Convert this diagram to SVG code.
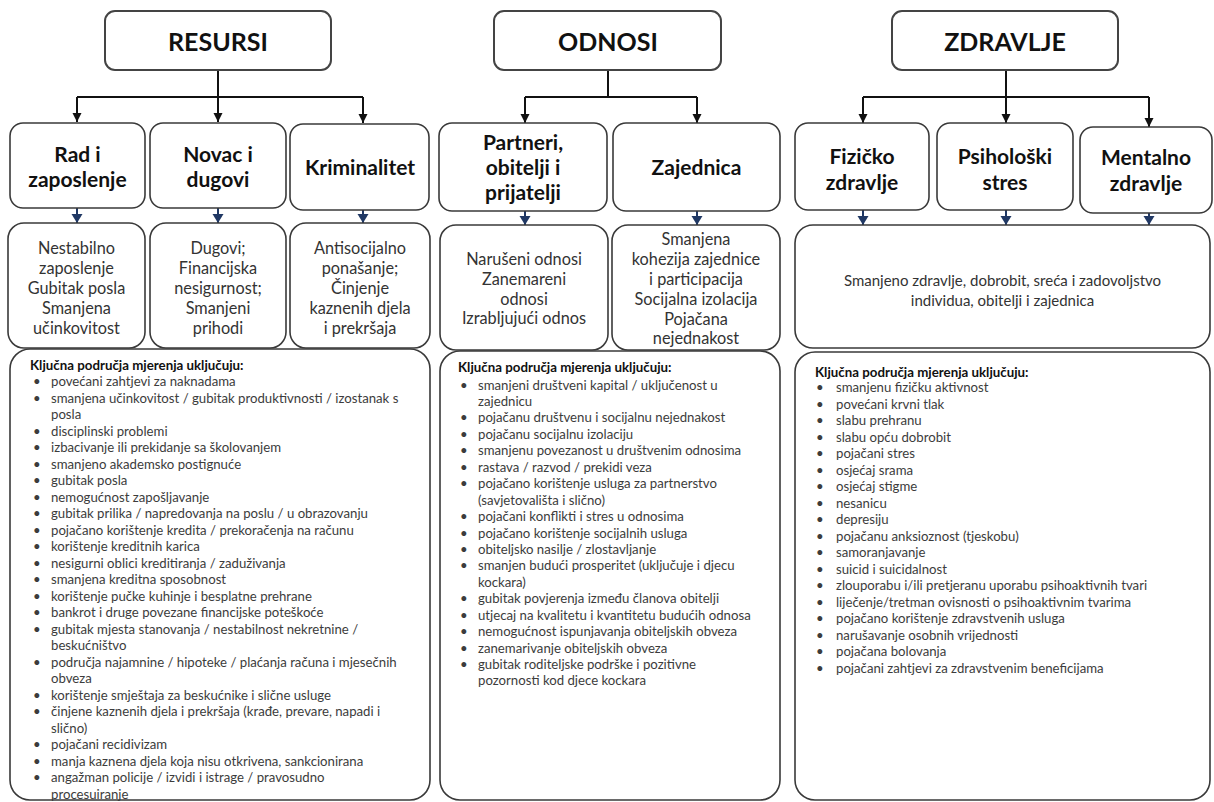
<svg xmlns="http://www.w3.org/2000/svg" width="1214" height="802" viewBox="0 0 1214 802">
<style>
.bx{fill:#fff;stroke:#3a3a3a;stroke-width:1.6}
.tb{fill:#fff;stroke:#444;stroke-width:2}
.ttl{font-family:Lato,"Liberation Sans",sans-serif;font-weight:bold;font-size:25px;fill:#111;text-anchor:middle}
.lbl{font-family:Lato,"Liberation Sans",sans-serif;font-weight:bold;font-size:21px;fill:#111;text-anchor:middle}
.eff{font-family:Lato,"Liberation Sans",sans-serif;font-size:16.3px;fill:#333;text-anchor:middle}
.eff2{font-family:Lato,"Liberation Sans",sans-serif;font-size:15px;fill:#333;text-anchor:middle}
.hd{font-family:Lato,"Liberation Sans",sans-serif;font-weight:bold;font-size:13.3px;fill:#111}
.it{font-family:Lato,"Liberation Sans",sans-serif;font-size:13.2px;fill:#3c3c3c}
.blk{fill:none;stroke:#111;stroke-width:2}
.blu{fill:none;stroke:#203864;stroke-width:2}
</style>
<defs>
<marker id="ah" markerUnits="userSpaceOnUse" markerWidth="10" markerHeight="10" refX="9" refY="5" orient="auto"><path d="M0,0.5 L9,5 L0,9.5 z" fill="#111"/></marker>
<marker id="bh" markerUnits="userSpaceOnUse" markerWidth="10" markerHeight="12" refX="9" refY="6" orient="auto"><path d="M0,0.5 L9,6 L0,11.5 z" fill="#203864"/></marker>
</defs>
<g id="connectors">
<path class="blk" d="M218 70 V97 M77 97 H363"/>
<path class="blk" d="M77 97 V122" marker-end="url(#ah)"/>
<path class="blk" d="M218 97 V122" marker-end="url(#ah)"/>
<path class="blk" d="M363 97 V123" marker-end="url(#ah)"/>
<path class="blk" d="M608 70 V97 M525 97 H697"/>
<path class="blk" d="M525 97 V123" marker-end="url(#ah)"/>
<path class="blk" d="M697 97 V123" marker-end="url(#ah)"/>
<path class="blk" d="M1006 70 V97 M863 97 H1149"/>
<path class="blk" d="M863 97 V123" marker-end="url(#ah)"/>
<path class="blk" d="M1006 97 V123" marker-end="url(#ah)"/>
<path class="blk" d="M1149 97 V127" marker-end="url(#ah)"/>
<path class="blu" d="M77 208 V223" marker-end="url(#bh)"/>
<path class="blu" d="M218 208 V223" marker-end="url(#bh)"/>
<path class="blu" d="M363 210 V223" marker-end="url(#bh)"/>
<path class="blu" d="M525 210 V225" marker-end="url(#bh)"/>
<path class="blu" d="M697 210 V225" marker-end="url(#bh)"/>
<path class="blu" d="M863 210 V225" marker-end="url(#bh)"/>
<path class="blu" d="M1006 210 V225" marker-end="url(#bh)"/>
<path class="blu" d="M1149 213 V225" marker-end="url(#bh)"/>
</g>
<g id="resursi"><rect class="tb" x="105" y="11" width="226" height="59" rx="10"/><text class="ttl" x="218" y="51">RESURSI</text></g>
<g id="odnosi"><rect class="tb" x="494" y="11" width="227" height="59" rx="10"/><text class="ttl" x="608" y="51">ODNOSI</text></g>
<g id="zdravlje"><rect class="tb" x="892" y="11" width="226" height="59" rx="10"/><text class="ttl" x="1005" y="51">ZDRAVLJE</text></g>

<g id="rad"><rect class="bx" x="10" y="123" width="135" height="85" rx="13"/><text class="lbl" x="77.5" y="162">Rad i</text><text class="lbl" x="77.5" y="187">zaposlenje</text></g>
<g id="novac"><rect class="bx" x="150" y="123" width="136" height="85" rx="13"/><text class="lbl" x="218" y="162">Novac i</text><text class="lbl" x="218" y="187">dugovi</text></g>
<g id="kriminalitet"><rect class="bx" x="290" y="124" width="139" height="86" rx="13"/><text class="lbl" x="360" y="175">Kriminalitet</text></g>
<g id="partneri"><rect class="bx" x="439" y="123" width="168" height="88" rx="13"/><text class="lbl" x="523" y="150">Partneri,</text><text class="lbl" x="523" y="175">obitelji i</text><text class="lbl" x="523" y="200">prijatelji</text></g>
<g id="zajednica"><rect class="bx" x="613" y="123" width="167" height="88" rx="13"/><text class="lbl" x="696.5" y="175">Zajednica</text></g>
<g id="fizicko"><rect class="bx" x="795" y="123" width="134" height="87" rx="13"/><text class="lbl" x="862" y="164">Fizičko</text><text class="lbl" x="862" y="190">zdravlje</text></g>
<g id="psiholoski"><rect class="bx" x="937" y="123" width="136" height="87" rx="13"/><text class="lbl" x="1005" y="164">Psihološki</text><text class="lbl" x="1005" y="190">stres</text></g>
<g id="mentalno"><rect class="bx" x="1080" y="127" width="132" height="86" rx="13"/><text class="lbl" x="1146" y="165">Mentalno</text><text class="lbl" x="1146" y="191">zdravlje</text></g>

<g id="nestabilno"><rect class="bx" x="8" y="223" width="137" height="125" rx="16"/>
<text class="eff" x="76.5" y="254">Nestabilno</text><text class="eff" x="76.5" y="274">zaposlenje</text><text class="eff" x="76.5" y="294">Gubitak posla</text><text class="eff" x="76.5" y="314">Smanjena</text><text class="eff" x="76.5" y="334">učinkovitost</text></g>
<g id="dugovi"><rect class="bx" x="150" y="223" width="136" height="125" rx="16"/>
<text class="eff" x="218" y="254">Dugovi;</text><text class="eff" x="218" y="274">Financijska</text><text class="eff" x="218" y="294">nesigurnost;</text><text class="eff" x="218" y="314">Smanjeni</text><text class="eff" x="218" y="334">prihodi</text></g>
<g id="antisocijalno"><rect class="bx" x="290" y="223" width="140" height="125" rx="16"/>
<text class="eff" x="360" y="254">Antisocijalno</text><text class="eff" x="360" y="274">ponašanje;</text><text class="eff" x="360" y="294">Činjenje</text><text class="eff" x="360" y="314">kaznenih djela</text><text class="eff" x="360" y="334">i prekršaja</text></g>
<g id="naruseni"><rect class="bx" x="440" y="225" width="168" height="125" rx="16"/>
<text class="eff" x="524" y="265">Narušeni odnosi</text><text class="eff" x="524" y="285">Zanemareni</text><text class="eff" x="524" y="305">odnosi</text><text class="eff" x="524" y="324">Izrabljujući odnos</text></g>
<g id="kohezija"><rect class="bx" x="612" y="225" width="168" height="125" rx="16"/>
<text class="eff" x="696" y="245">Smanjena</text><text class="eff" x="696" y="265">kohezija zajednice</text><text class="eff" x="696" y="285">i participacija</text><text class="eff" x="696" y="305">Socijalna izolacija</text><text class="eff" x="696" y="325">Pojačana</text><text class="eff" x="696" y="344">nejednakost</text></g>
<g id="smanjeno"><rect class="bx" x="795" y="225" width="415" height="123" rx="18"/>
<text class="eff2" x="1002.5" y="286">Smanjeno zdravlje, dobrobit, sreća i zadovoljstvo</text><text class="eff2" x="1002.5" y="306">individua, obitelji i zajednica</text></g>

<g id="kljucna-resursi"><rect class="bx" x="10" y="349" width="420" height="451" rx="20"/>
<text class="hd" x="30" y="370">Ključna područja mjerenja uključuju:</text>
<g class="it">
<text x="33" y="386">•</text><text x="51" y="386">povećani zahtjevi za naknadama</text>
<text x="33" y="402.5">•</text><text x="51" y="402.5">smanjena učinkovitost / gubitak produktivnosti / izostanak s</text>
<text x="51" y="419">posla</text>
<text x="33" y="435.5">•</text><text x="51" y="435.5">disciplinski problemi</text>
<text x="33" y="452">•</text><text x="51" y="452">izbacivanje ili prekidanje sa školovanjem</text>
<text x="33" y="468.5">•</text><text x="51" y="468.5">smanjeno akademsko postignuće</text>
<text x="33" y="485">•</text><text x="51" y="485">gubitak posla</text>
<text x="33" y="501.5">•</text><text x="51" y="501.5">nemogućnost zapošljavanje</text>
<text x="33" y="518">•</text><text x="51" y="518">gubitak prilika / napredovanja na poslu / u obrazovanju</text>
<text x="33" y="534.5">•</text><text x="51" y="534.5">pojačano korištenje kredita / prekoračenja na računu</text>
<text x="33" y="551">•</text><text x="51" y="551">korištenje kreditnih karica</text>
<text x="33" y="567.5">•</text><text x="51" y="567.5">nesigurni oblici kreditiranja / zaduživanja</text>
<text x="33" y="584">•</text><text x="51" y="584">smanjena kreditna sposobnost</text>
<text x="33" y="600.5">•</text><text x="51" y="600.5">korištenje pučke kuhinje i besplatne prehrane</text>
<text x="33" y="617">•</text><text x="51" y="617">bankrot i druge povezane financijske poteškoće</text>
<text x="33" y="633.5">•</text><text x="51" y="633.5">gubitak mjesta stanovanja / nestabilnost nekretnine /</text>
<text x="51" y="650">beskućništvo</text>
<text x="33" y="666.5">•</text><text x="51" y="666.5">područja najamnine / hipoteke / plaćanja računa i mjesečnih</text>
<text x="51" y="683">obveza</text>
<text x="33" y="699.5">•</text><text x="51" y="699.5">korištenje smještaja za beskućnike i slične usluge</text>
<text x="33" y="716">•</text><text x="51" y="716">činjene kaznenih djela i prekršaja (krađe, prevare, napadi i</text>
<text x="51" y="732.5">slično)</text>
<text x="33" y="749">•</text><text x="51" y="749">pojačani recidivizam</text>
<text x="33" y="765.5">•</text><text x="51" y="765.5">manja kaznena djela koja nisu otkrivena, sankcionirana</text>
<text x="33" y="782">•</text><text x="51" y="782">angažman policije / izvidi i istrage / pravosudno</text>
<text x="51" y="798.5">procesuiranje</text>
</g></g>

<g id="kljucna-odnosi"><rect class="bx" x="440" y="351" width="340" height="449" rx="20"/>
<text class="hd" x="458" y="372">Ključna područja mjerenja uključuju:</text>
<g class="it">
<text x="460" y="389.5">•</text><text x="478" y="389.5">smanjeni društveni kapital / uključenost u</text>
<text x="478" y="405.9">zajednicu</text>
<text x="460" y="422.4">•</text><text x="478" y="422.4">pojačanu društvenu i socijalnu nejednakost</text>
<text x="460" y="438.8">•</text><text x="478" y="438.8">pojačanu socijalnu izolaciju</text>
<text x="460" y="455.3">•</text><text x="478" y="455.3">smanjenu povezanost u društvenim odnosima</text>
<text x="460" y="471.7">•</text><text x="478" y="471.7">rastava / razvod / prekidi veza</text>
<text x="460" y="488.1">•</text><text x="478" y="488.1">pojačano korištenje usluga za partnerstvo</text>
<text x="478" y="504.6">(savjetovališta i slično)</text>
<text x="460" y="521">•</text><text x="478" y="521">pojačani konflikti i stres u odnosima</text>
<text x="460" y="537.5">•</text><text x="478" y="537.5">pojačano korištenje socijalnih usluga</text>
<text x="460" y="553.9">•</text><text x="478" y="553.9">obiteljsko nasilje / zlostavljanje</text>
<text x="460" y="570.3">•</text><text x="478" y="570.3">smanjen budući prosperitet (uključuje i djecu</text>
<text x="478" y="586.8">kockara)</text>
<text x="460" y="603.2">•</text><text x="478" y="603.2">gubitak povjerenja između članova obitelji</text>
<text x="460" y="619.7">•</text><text x="478" y="619.7">utjecaj na kvalitetu i kvantitetu budućih odnosa</text>
<text x="460" y="636.1">•</text><text x="478" y="636.1">nemogućnost ispunjavanja obiteljskih obveza</text>
<text x="460" y="652.5">•</text><text x="478" y="652.5">zanemarivanje obiteljskih obveza</text>
<text x="460" y="669">•</text><text x="478" y="669">gubitak roditeljske podrške i pozitivne</text>
<text x="478" y="685.4">pozornosti kod djece kockara</text>
</g></g>

<g id="kljucna-zdravlje"><rect class="bx" x="795" y="352" width="415" height="448" rx="20"/>
<text class="hd" x="815" y="377">Ključna područja mjerenja uključuju:</text>
<g class="it">
<text x="816" y="392">•</text><text x="836" y="392">smanjenu fizičku aktivnost</text>
<text x="816" y="408.5">•</text><text x="836" y="408.5">povećani krvni tlak</text>
<text x="816" y="425">•</text><text x="836" y="425">slabu prehranu</text>
<text x="816" y="441.5">•</text><text x="836" y="441.5">slabu opću dobrobit</text>
<text x="816" y="458">•</text><text x="836" y="458">pojačani stres</text>
<text x="816" y="474.5">•</text><text x="836" y="474.5">osjećaj srama</text>
<text x="816" y="491">•</text><text x="836" y="491">osjećaj stigme</text>
<text x="816" y="507.5">•</text><text x="836" y="507.5">nesanicu</text>
<text x="816" y="524">•</text><text x="836" y="524">depresiju</text>
<text x="816" y="540.5">•</text><text x="836" y="540.5">pojačanu anksioznost (tjeskobu)</text>
<text x="816" y="557">•</text><text x="836" y="557">samoranjavanje</text>
<text x="816" y="573.5">•</text><text x="836" y="573.5">suicid i suicidalnost</text>
<text x="816" y="590">•</text><text x="836" y="590">zlouporabu i/ili pretjeranu uporabu psihoaktivnih tvari</text>
<text x="816" y="606.5">•</text><text x="836" y="606.5">liječenje/tretman ovisnosti o psihoaktivnim tvarima</text>
<text x="816" y="623">•</text><text x="836" y="623">pojačano korištenje zdravstvenih usluga</text>
<text x="816" y="639.5">•</text><text x="836" y="639.5">narušavanje osobnih vrijednosti</text>
<text x="816" y="656">•</text><text x="836" y="656">pojačana bolovanja</text>
<text x="816" y="672.5">•</text><text x="836" y="672.5">pojačani zahtjevi za zdravstvenim beneficijama</text>
</g></g>
</svg>
